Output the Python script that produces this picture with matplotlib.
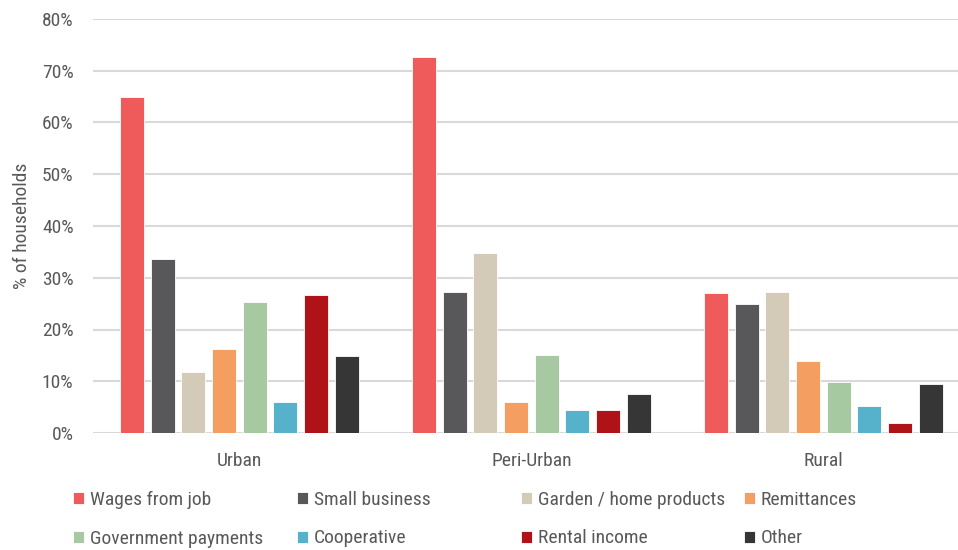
import matplotlib
matplotlib.use("Agg")
import matplotlib.pyplot as plt
import numpy as np

categories = ["Urban", "Peri-Urban", "Rural"]
series_names = ["Wages from job", "Small business", "Garden / home products", "Remittances",
                "Government payments", "Cooperative", "Rental income", "Other"]
wages = [64.9, 72.6, 27.0]
small_business = [33.6, 27.2, 24.9]
garden = [11.8, 34.8, 27.2]
remittances = [16.3, 5.9, 13.9]
government = [25.3, 15.0, 9.8]
cooperative = [5.9, 4.4, 5.3]
rental = [26.7, 4.4, 1.9]
other = [14.8, 7.5, 9.5]
series_values = [wages, small_business, garden, remittances, government, cooperative, rental, other]
colors = ["#EF5A5A", "#58585A", "#D3CBB8", "#F59E62", "#A6C9A1", "#56B1CB", "#B01317", "#363636"]
yticks = [0, 10, 20, 30, 40, 50, 60, 70, 80]

plt.rcParams['font.family'] = ['Roboto Condensed', 'Archivo Narrow', 'Liberation Sans', 'DejaVu Sans']
txt = "#595959"
fs = 14

fig = plt.figure(figsize=(9.58, 5.5), dpi=100)
ax = fig.add_axes([93/958, 1-433/550, (958-93)/958, (433-19)/550])

x = np.arange(len(categories))
pitch = 0.105
width = 0.082
handles = []
for i, (name, vals, c) in enumerate(zip(series_names, series_values, colors)):
    off = (i - 3.5) * pitch
    b = ax.bar(x + off, vals, width, color=c, edgecolor="white", linewidth=0.6, label=name, zorder=3)
    handles.append(b)

ax.set_ylim(0, 80)
ax.set_xlim(-0.501, 2.461)
ax.set_yticks(yticks)
ax.set_yticklabels([f"{t}%" for t in yticks], fontsize=fs, color=txt)
ax.set_xticks(x)
ax.set_xticklabels(categories, fontsize=fs, color=txt)
ax.tick_params(axis='both', length=0)
ax.tick_params(axis='x', pad=14)
ax.tick_params(axis='y', pad=14)
ax.grid(axis='y', color="#D9D9D9", linewidth=1.5, zorder=0)
for s in ax.spines.values():
    s.set_visible(False)
ax.set_ylabel("% of households", fontsize=fs, color=txt)
ax.yaxis.set_label_coords(-0.072, 0.5)

col_x = [73/958, 297/958, 521/958, 744/958]
for j in range(4):
    fig.legend(handles=[handles[j], handles[j + 4]], labels=[series_names[j], series_names[j + 4]],
               loc='upper left', bbox_to_anchor=(col_x[j], 1 - 491/550), frameon=False,
               fontsize=fs, labelcolor=txt, handlelength=0.58, handleheight=0.58,
               handletextpad=0.28, labelspacing=1.05, borderaxespad=0, borderpad=0)

fig.savefig("out.png", dpi=100)
